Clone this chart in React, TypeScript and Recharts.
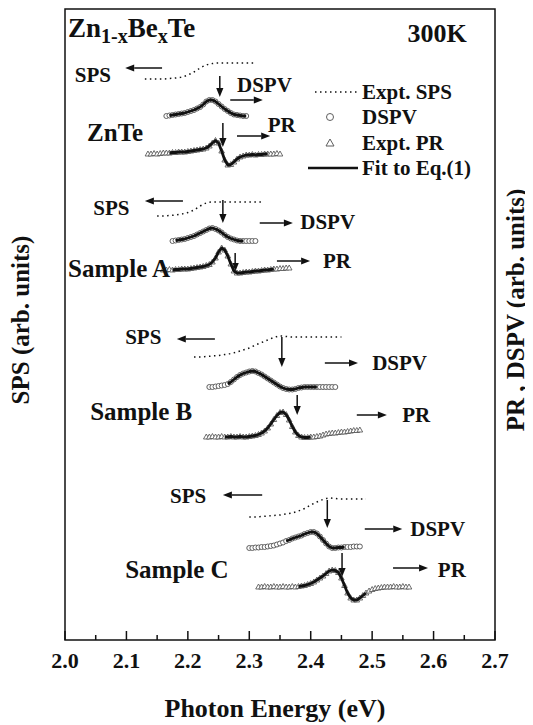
import React from 'react';
import {
  ComposedChart, Line, Scatter, XAxis, YAxis, ReferenceArea, ReferenceLine, ReferenceDot, Legend,
} from 'recharts';

const FONT = '"Liberation Serif", "Times New Roman", Times, serif';
const INK = '#111';
const MARK = '#5e5e5e';

// energy grids (eV)
const STEP = 0.005;
const SPS_STEP = 0.01;

const majorTicks = [2.0, 2.1, 2.2, 2.3, 2.4, 2.5, 2.6, 2.7];
const minorTicks = [2.05, 2.15, 2.25, 2.35, 2.45, 2.55, 2.65];
const tickLabels = ['2.0', '2.1', '2.2', '2.3', '2.4', '2.5', '2.6', '2.7'];

// spectra in arb. units, every trace already carries its vertical offset
// ZnTe
const znteSpsStart = 2.13;
const znteSps = [561, 561, 561, 561, 561.5, 562, 563, 565, 568, 572, 575, 576.5, 577, 577, 577, 577, 577, 577, 577];
const znteDspvStart = 2.165;
const znteDspv = [524, 524.5, 525, 525.5, 526, 526.5, 527, 528, 529, 530, 531.5, 533, 535.5, 538.5, 540, 540, 538.5, 536, 533.5, 531, 529, 527, 525.5, 525, 524.5, 524, 524];
const zntePrStart = 2.135;
const zntePr = [486, 486, 486.5, 486, 486.5, 487, 487, 487, 487.5, 487.5, 488, 488, 488, 488.5, 489, 489.5, 490, 490.5, 491, 492, 494, 497, 499.5, 497, 489, 480, 475, 475.5, 478, 481, 483, 484, 485, 485, 485.5, 485, 485.5, 485.5, 486, 486, 486, 486, 486.5, 486];

// Sample A
const aSpsStart = 2.15;
const aSps = [424, 424, 424.5, 425, 426, 427.5, 430, 434, 437, 438, 438, 438, 438, 438, 438, 438, 438, 438];
const aDspvStart = 2.175;
const aDspv = [399, 399.5, 400, 400.5, 401, 402, 403, 404, 405.5, 407, 408.5, 410, 411.5, 412, 411, 409.5, 407.5, 405, 403, 401.5, 400.5, 399.5, 399, 399, 399, 399, 399, 399];
const aPrStart = 2.16;
const aPr = [370, 370, 370.5, 370, 370.5, 370.5, 371, 371, 371, 371.5, 372, 372.5, 373, 373.5, 374.5, 375.5, 378, 382, 388, 392, 390, 384, 376, 369, 367, 367, 367.5, 368, 368, 368.5, 369, 369, 369.5, 370, 370, 370.5, 371, 371, 371.5, 371.5, 372, 372];

// Sample B
const bSpsStart = 2.21;
const bSps = [283, 283, 283.5, 284, 284.5, 285.5, 286.5, 288, 290, 292, 295, 297.5, 300, 302.5, 304, 303.5, 303, 303, 303, 303, 303, 303, 303, 303, 303];
const bDspvStart = 2.235;
const bDspv = [253, 253, 253.5, 254, 254.5, 255, 256, 258, 260.5, 263, 265, 266.5, 267.5, 268.5, 269, 268.5, 267, 265.5, 263.5, 261.5, 259.5, 257.5, 255.5, 253.5, 252, 251, 250.5, 250.5, 251, 252, 252.5, 253, 253, 253, 253, 253, 253, 253, 253, 253, 253, 253];
const bPrStart = 2.23;
const bPr = [203, 203, 203.5, 203, 203, 203.5, 203, 203, 203.5, 203, 203, 203.5, 203, 203, 203.5, 204, 204.5, 205.5, 207, 209, 212, 216, 220.5, 224.5, 227.5, 228, 225.5, 220, 213.5, 208, 204.5, 203, 202.5, 202.5, 203, 203, 203.5, 204, 205, 206, 206.5, 207, 207, 207.5, 208, 208, 208.5, 209, 209.5, 209.5, 210];

// Sample C
const cSpsStart = 2.3;
const cSps = [123, 123, 123.5, 124, 124.5, 125, 126, 127, 129, 131.5, 135, 138, 140.5, 142, 141.5, 141, 141, 141, 141, 141];
const cDspvStart = 2.3;
const cDspv = [92, 92, 92.5, 92.5, 93, 93, 93.5, 94, 94.5, 95.5, 96.5, 97.5, 99, 100, 101.5, 102.5, 103.5, 104.5, 106, 107, 108, 108, 106.5, 103.5, 100, 96.5, 93.5, 92, 92, 92.5, 92.5, 93, 93, 93, 93.5, 93.5, 93.5];
const cPrStart = 2.315;
const cPr = [53, 53, 53.5, 53, 53, 53.5, 53, 53, 53.5, 53, 53, 53.5, 53, 53.5, 54, 54.5, 55.5, 56.5, 58, 60, 62, 64, 66.5, 69, 70, 69.5, 67.5, 62, 54.5, 47, 42, 40, 40, 42, 44.5, 47, 49, 50.5, 51.5, 52, 52.5, 53, 53, 53, 53.5, 53, 53, 53.5, 53, 53];

// energy windows covered by the Eq.(1) fits
const dspvFitRanges = [[2.17, 2.295], [2.18, 2.29], [2.265, 2.41], [2.36, 2.455]];
const prFitRanges = [[2.17, 2.33], [2.175, 2.34], [2.26, 2.4], [2.38, 2.49]];

const grid = (start: number, step: number, vals: number[]) =>
  vals.map((y, i) => ({ x: +(start + i * step).toFixed(3), y }));

const samples = [
  { sps: grid(znteSpsStart, SPS_STEP, znteSps), dspv: grid(znteDspvStart, STEP, znteDspv), pr: grid(zntePrStart, STEP, zntePr) },
  { sps: grid(aSpsStart, SPS_STEP, aSps), dspv: grid(aDspvStart, STEP, aDspv), pr: grid(aPrStart, STEP, aPr) },
  { sps: grid(bSpsStart, SPS_STEP, bSps), dspv: grid(bDspvStart, STEP, bDspv), pr: grid(bPrStart, STEP, bPr) },
  { sps: grid(cSpsStart, SPS_STEP, cSps), dspv: grid(cDspvStart, STEP, cDspv), pr: grid(cPrStart, STEP, cPr) },
];

const within = (pts: { x: number; y: number }[], r: number[]) => pts.filter((p) => p.x >= r[0] - 1e-9 && p.x <= r[1] + 1e-9);

// text annotations
const notes = [
  { text: '300K', x: 2.654, y: 607, size: 26, anchor: 'end' },
  { text: 'SPS', x: 2.016, y: 565, size: 21 },
  { text: 'DSPV', x: 2.28, y: 555, size: 21 },
  { text: 'ZnTe', x: 2.036, y: 508, size: 25 },
  { text: 'PR', x: 2.33, y: 515, size: 21 },
  { text: 'SPS', x: 2.046, y: 432, size: 21 },
  { text: 'DSPV', x: 2.383, y: 418, size: 21 },
  { text: 'Sample A', x: 2.005, y: 372, size: 25 },
  { text: 'PR', x: 2.42, y: 379, size: 21 },
  { text: 'SPS', x: 2.098, y: 303, size: 21 },
  { text: 'DSPV', x: 2.5, y: 277, size: 21 },
  { text: 'Sample B', x: 2.041, y: 229, size: 25 },
  { text: 'PR', x: 2.549, y: 225, size: 21 },
  { text: 'SPS', x: 2.171, y: 144, size: 21 },
  { text: 'DSPV', x: 2.562, y: 111, size: 21 },
  { text: 'Sample C', x: 2.098, y: 71, size: 25 },
  { text: 'PR', x: 2.607, y: 70, size: 21 },
];

// pointer arrows: [x1, y1, x2, y2], head at the second point
const arrows = [
  [2.158, 572, 2.098, 572], [2.269, 540, 2.322, 540], [2.28, 504, 2.334, 504],
  [2.192, 439, 2.13, 439], [2.317, 417, 2.371, 417], [2.345, 379, 2.399, 379],
  [2.244, 301, 2.182, 301], [2.423, 277, 2.477, 277], [2.475, 225, 2.524, 225],
  [2.321, 145, 2.257, 145], [2.488, 111, 2.549, 111], [2.534, 72, 2.591, 72],
  [2.252, 564, 2.252, 543], [2.257, 517, 2.257, 493],
  [2.257, 440, 2.257, 417], [2.277, 387, 2.277, 368],
  [2.353, 303, 2.353, 273], [2.378, 245, 2.378, 225],
  [2.427, 140, 2.427, 112], [2.451, 87, 2.451, 63],
];

const legendItems = ['Expt. SPS', 'DSPV', 'Expt. PR', 'Fit to Eq.(1)'];

const OpenCircle = (p: any) => (
  <circle cx={p.cx} cy={p.cy} r={2.5} fill="#fff" stroke={MARK} strokeWidth={1} />
);

const OpenTriangle = (p: any) => (
  <path d={`M${p.cx},${p.cy - 3}L${p.cx + 2.8},${p.cy + 2}L${p.cx - 2.8},${p.cy + 2}Z`} fill="#fff" stroke={MARK} strokeWidth={0.9} />
);

const NoMark = () => <g />;

const ArrowShape = (p: any) => {
  const { x1, y1, x2, y2 } = p;
  const a = Math.atan2(y2 - y1, x2 - x1);
  const L = 9, W = 3.6;
  const bx = x2 - L * Math.cos(a), by = y2 - L * Math.sin(a);
  const nx = -Math.sin(a) * W, ny = Math.cos(a) * W;
  return (
    <g>
      <line x1={x1} y1={y1} x2={bx} y2={by} stroke={INK} strokeWidth={1.5} />
      <polygon points={`${x2},${y2} ${bx + nx},${by + ny} ${bx - nx},${by - ny}`} fill={INK} />
    </g>
  );
};

const EnergyTick = ({ x, y, payload }: any) => {
  const i = majorTicks.indexOf(payload.value);
  const major = i >= 0;
  return (
    <g>
      <line x1={x} x2={x} y1={y} y2={y - (major ? 9 : 5)} stroke={INK} strokeWidth={1.5} />
      {major && (
        <text x={x} y={y + 20} textAnchor="middle" dominantBaseline="central" fontFamily={FONT} fontWeight="bold" fontSize={22} fill={INK}>
          {tickLabels[i]}
        </text>
      )}
    </g>
  );
};

const LegendBox = () => (
  <svg width={170} height={100} style={{ display: 'block' }}>
    <line x1={9} x2={52} y1={12} y2={12} stroke={INK} strokeWidth={1.5} strokeDasharray="1.5 3.5" />
    <circle cx={24} cy={37} r={3.5} fill="#fff" stroke={MARK} strokeWidth={1} />
    <path d="M24,59L28,66L20,66Z" fill="#fff" stroke={MARK} strokeWidth={1} />
    <line x1={2} x2={52} y1={88} y2={88} stroke={INK} strokeWidth={2.5} />
    {legendItems.map((t, i) => (
      <text key={t} x={56} y={[12, 37, 63, 88][i]} dominantBaseline="central" fontFamily={FONT} fontWeight="bold" fontSize={21} fill={INK}>
        {t}
      </text>
    ))}
  </svg>
);

export default function App() {
  return (
    <ComposedChart width={525} height={717} margin={{ top: 1, right: 0, bottom: 0, left: 0 }}>
      <XAxis
        xAxisId="e"
        dataKey="x"
        type="number"
        domain={[2.0, 2.7]}
        ticks={[...majorTicks, ...minorTicks].sort((a, b) => a - b)}
        interval={0}
        tick={<EnergyTick />}
        tickLine={false}
        axisLine={false}
        tickSize={0}
        tickMargin={0}
        height={85}
        label={(p: any) => (
          <text x={p.viewBox.x + p.viewBox.width / 2 - 5} y={p.viewBox.y + 68} textAnchor="middle" dominantBaseline="central" fontFamily={FONT} fontWeight="bold" fontSize={26} fill={INK}>
            Photon Energy (eV)
          </text>
        )}
      />
      <YAxis
        yAxisId="s"
        type="number"
        domain={[0, 631]}
        width={57}
        tick={false}
        tickLine={false}
        axisLine={false}
        label={(p: any) => {
          const x = p.viewBox.x + 12;
          const y = 312;
          return (
            <text x={x} y={y} transform={`rotate(-90, ${x}, ${y})`} textAnchor="middle" dominantBaseline="central" fontFamily={FONT} fontWeight="bold" fontSize={25} fill={INK}>
              SPS (arb. units)
            </text>
          );
        }}
      />
      <YAxis
        yAxisId="r"
        orientation="right"
        type="number"
        domain={[0, 631]}
        width={38}
        tick={false}
        tickLine={false}
        axisLine={false}
        label={(p: any) => {
          const x = p.viewBox.x + 20;
          const y = 302;
          return (
            <text x={x} y={y} transform={`rotate(-90, ${x}, ${y})`} textAnchor="middle" dominantBaseline="central" fontFamily={FONT} fontWeight="bold" fontSize={25} fill={INK}>
              PR , DSPV (arb. units)
            </text>
          );
        }}
      />

      <ReferenceArea xAxisId="e" yAxisId="s" x1={2.0} x2={2.7} y1={0} y2={631} fill="none" stroke={INK} strokeWidth={1.5} />

      {samples.map((s, k) => (
        <Line key={`sps-${k}`} xAxisId="e" yAxisId="s" data={s.sps} dataKey="y" type="monotone" stroke={INK} strokeWidth={1.5} strokeDasharray="1.5 3.5" dot={false} isAnimationActive={false} />
      ))}
      {samples.map((s, k) => (
        <Scatter key={`dspv-${k}`} xAxisId="e" yAxisId="s" data={s.dspv} dataKey="y" shape={OpenCircle} isAnimationActive={false} />
      ))}
      {samples.map((s, k) => (
        <Scatter key={`pr-${k}`} xAxisId="e" yAxisId="s" data={s.pr} dataKey="y" shape={OpenTriangle} isAnimationActive={false} />
      ))}
      {/* Eq.(1) fits, drawn as scatter lines so they sit above the markers */}
      {samples.map((s, k) => (
        <Scatter key={`fd-${k}`} xAxisId="e" yAxisId="s" data={within(s.dspv, dspvFitRanges[k])} dataKey="y" shape={NoMark} line={{ stroke: INK, strokeWidth: 2.8, strokeLinejoin: 'round' }} lineType="joint" isAnimationActive={false} />
      ))}
      {samples.map((s, k) => (
        <Scatter key={`fp-${k}`} xAxisId="e" yAxisId="s" data={within(s.pr, prFitRanges[k])} dataKey="y" shape={NoMark} line={{ stroke: INK, strokeWidth: 2.8, strokeLinejoin: 'round' }} lineType="joint" isAnimationActive={false} />
      ))}

      {arrows.map((a, i) => (
        <ReferenceLine key={`ar-${i}`} xAxisId="e" yAxisId="s" segment={[{ x: a[0], y: a[1] }, { x: a[2], y: a[3] }]} shape={ArrowShape} />
      ))}

      <ReferenceDot
        xAxisId="e"
        yAxisId="s"
        x={2.005}
        y={612}
        r={0}
        shape={(p: any) => (
          <text x={p.cx} y={p.cy} dominantBaseline="central" fontFamily={FONT} fontWeight="bold" fontSize={27} fill={INK}>
            <tspan>Zn</tspan>
            <tspan dy={8} fontSize={20}>1-x</tspan>
            <tspan dy={-8}>Be</tspan>
            <tspan dy={8} fontSize={20}>x</tspan>
            <tspan dy={-8}>Te</tspan>
          </text>
        )}
      />
      {notes.map((n, i) => (
        <ReferenceDot
          key={`n-${i}`}
          xAxisId="e"
          yAxisId="s"
          x={n.x}
          y={n.y}
          r={0}
          shape={(p: any) => (
            <text x={p.cx} y={p.cy} textAnchor={(n as any).anchor || 'start'} dominantBaseline="central" fontFamily={FONT} fontWeight="bold" fontSize={n.size} fill={INK}>
              {n.text}
            </text>
          )}
        />
      ))}

      <Legend
        layout="vertical"
        align="center"
        verticalAlign="middle"
        content={() => <LegendBox />}
        wrapperStyle={{ position: 'absolute', left: 298, top: 72, width: 170, height: 100 }}
      />
    </ComposedChart>
  );
}
